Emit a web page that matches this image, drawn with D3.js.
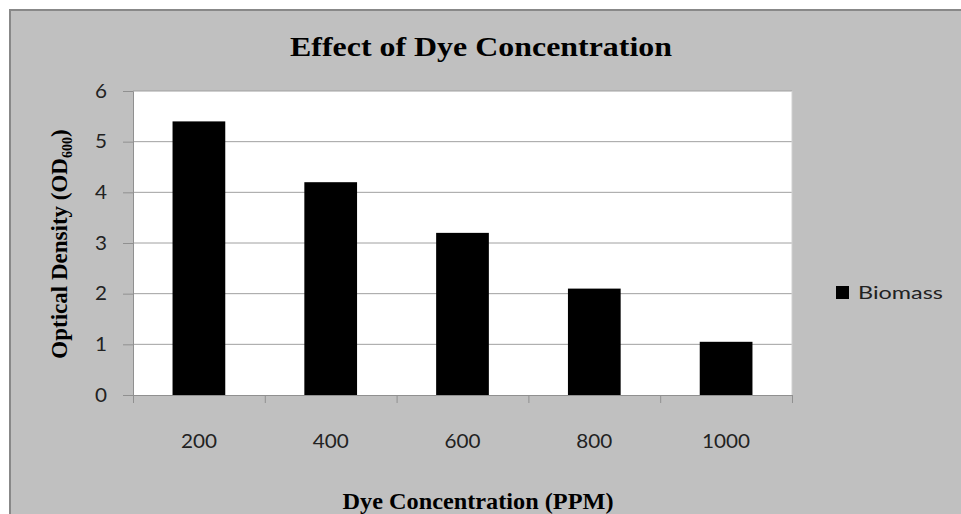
<!DOCTYPE html>
<html>
<head>
<meta charset="utf-8">
<script src="https://cdn.jsdelivr.net/npm/d3@7"></script>
<style>
  body { margin: 0; background: #fff; }
  svg { display: block; }
</style>
</head>
<body>
<svg id="chart"></svg>
<script>
var categories = ["200", "400", "600", "800", "1000"];
var biomass = [5.4, 4.2, 3.2, 2.1, 1.05];
var yTicks = [0, 1, 2, 3, 4, 5, 6];
var seriesName = "Biomass";

var svgWidth = 961, svgHeight = 514;
var plot = {left: 133, right: 792, top: 91, bottom: 395};

var svg = d3.select("#chart")
   .attr("width", svgWidth)
   .attr("height", svgHeight);

// squeeze or widen a text to a given length
function fitText(sel, len) {
   sel.attr("textLength", len).attr("lengthAdjust", "spacingAndGlyphs");
}

// chart area
svg.append("rect")
   .attr("x", 10).attr("y", 10)
   .attr("width", svgWidth).attr("height", svgHeight)
   .attr("fill", "#c0c0c0")
   .attr("stroke", "#888").attr("stroke-width", 2);

svg.append("rect")
   .attr("x", plot.left).attr("y", plot.top)
   .attr("width", plot.right - plot.left).attr("height", plot.bottom - plot.top)
   .attr("fill", "#fff");

var x = d3.scaleBand()
   .domain(categories)
   .range([plot.left, plot.right])
   .paddingInner(0.6)
   .paddingOuter(0.3);

var xEdge = d3.scaleLinear()
   .domain([0, categories.length])
   .range([plot.left, plot.right]);

var y = d3.scaleLinear()
   .domain([0, 6])
   .range([plot.bottom, plot.top]);

// gridlines
svg.append("g")
   .selectAll("line")
   .data(yTicks.slice(1))
   .enter()
   .append("line")
   .attr("x1", plot.left).attr("x2", plot.right)
   .attr("y1", function(d){ return y(d); })
   .attr("y2", function(d){ return y(d); })
   .attr("stroke", "#a0a0a0").attr("stroke-width", 1);

// right border of the plot
svg.append("line")
   .attr("x1", plot.right).attr("x2", plot.right)
   .attr("y1", plot.top).attr("y2", plot.bottom)
   .attr("stroke", "#d0d0d0").attr("stroke-width", 1);

// bars
svg.append("g")
   .selectAll("rect")
   .data(biomass)
   .enter()
   .append("rect")
   .attr("x", function(d, i){ return x(categories[i]); })
   .attr("width", x.bandwidth())
   .attr("y", function(d){ return y(d); })
   .attr("height", function(d){ return y(0) - y(d); })
   .attr("fill", "#000");

// y axis
var yAxis = svg.append("g")
   .attr("transform", "translate(" + plot.left + ",0)")
   .call(d3.axisLeft(y).tickValues(yTicks).tickFormat(d3.format("d")).tickSize(10).tickPadding(16));
yAxis.select(".domain").attr("stroke", "#909090");
yAxis.selectAll(".tick line").attr("stroke", "#909090");
yAxis.selectAll(".tick text")
   .attr("font-family", "Lato, sans-serif")
   .attr("font-size", 19)
   .attr("fill", "#222")
   .each(function(){ fitText(d3.select(this), 12); });

// x axis: ticks between categories
var xAxis = svg.append("g")
   .attr("transform", "translate(0," + plot.bottom + ")")
   .call(d3.axisBottom(xEdge).ticks(5).tickSize(8).tickFormat(""));
xAxis.select(".domain").attr("stroke", "#909090");
xAxis.selectAll(".tick line").attr("stroke", "#909090");

svg.append("g")
   .selectAll("text")
   .data(categories)
   .enter()
   .append("text")
   .attr("x", function(d){ return x(d) + x.bandwidth() / 2; })
   .attr("y", 448)
   .attr("text-anchor", "middle")
   .attr("font-family", "Lato, sans-serif")
   .attr("font-size", 19)
   .attr("fill", "#222")
   .attr("textLength", function(d){ return d.length * 12; })
   .attr("lengthAdjust", "spacingAndGlyphs")
   .text(function(d){ return d; });

// titles
svg.append("text")
   .attr("x", 481).attr("y", 56)
   .attr("text-anchor", "middle")
   .attr("font-family", "Liberation Serif, serif")
   .attr("font-weight", "bold")
   .attr("font-size", 28)
   .call(fitText, 382)
   .text("Effect of Dye Concentration");

svg.append("text")
   .attr("x", 478).attr("y", 509)
   .attr("text-anchor", "middle")
   .attr("font-family", "Liberation Serif, serif")
   .attr("font-weight", "bold")
   .attr("font-size", 23)
   .call(fitText, 271)
   .text("Dye Concentration (PPM)");

var yTitle = svg.append("text")
   .attr("transform", "translate(67,244) rotate(-90)")
   .attr("text-anchor", "middle")
   .attr("font-family", "Liberation Serif, serif")
   .attr("font-weight", "bold")
   .attr("font-size", 23);
yTitle.append("tspan").text("Optical Density (OD");
yTitle.append("tspan").attr("font-size", 14).attr("dy", 5).text("600");
yTitle.append("tspan").attr("dy", -5).text(")");

// legend
var legend = svg.append("g")
   .attr("transform", "translate(836,286)");
legend.append("rect")
   .attr("width", 13).attr("height", 13)
   .attr("fill", "#000");
legend.append("text")
   .attr("x", 22).attr("y", 13)
   .attr("font-family", "Lato, sans-serif")
   .attr("font-size", 18)
   .attr("fill", "#222")
   .call(fitText, 85)
   .text(seriesName);
</script>
</body>
</html>
